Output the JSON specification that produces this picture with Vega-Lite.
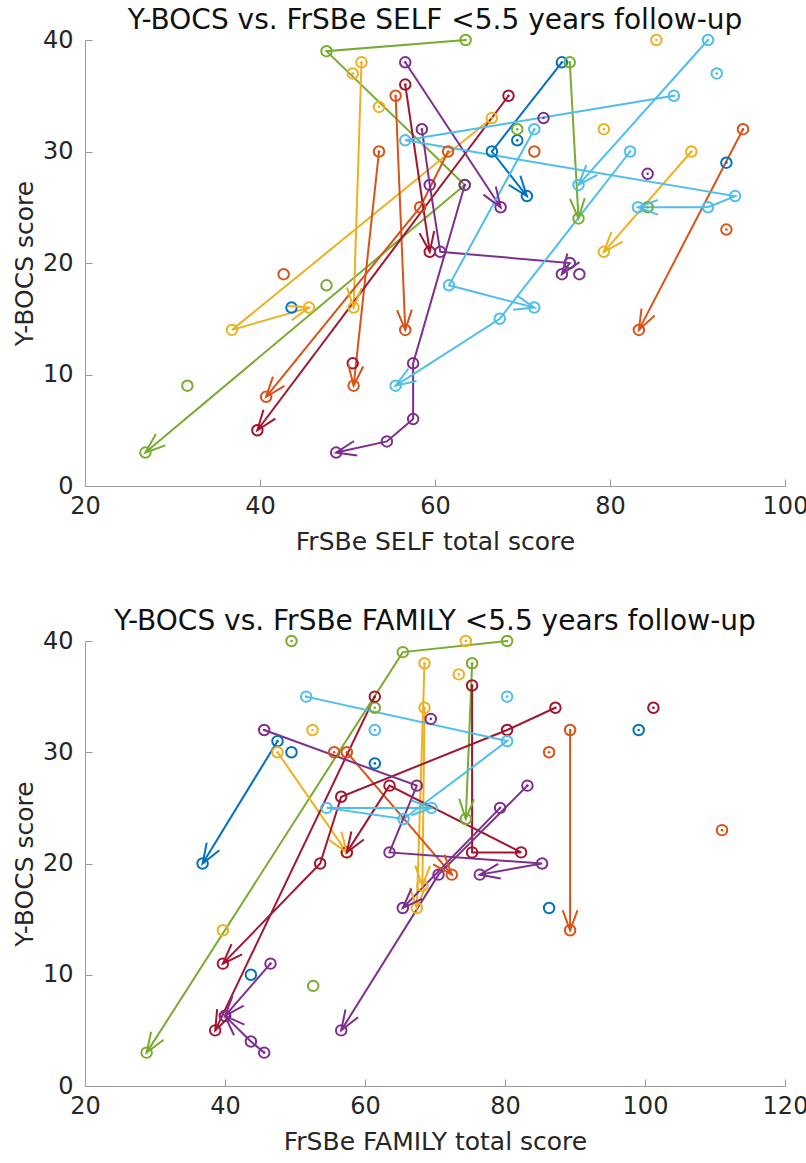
{
  "$schema": "https://vega.github.io/schema/vega-lite/v6.json",
  "padding": {"left": 12, "top": 7, "right": 5, "bottom": 5},
  "background": "white",
  "spacing": 155,
  "bounds": "flush",
  "config": {
    "font": "DejaVu Sans",
    "view": {"stroke": null},
    "axis": {
      "domainColor": "#9a9a9a",
      "tickColor": "#9a9a9a",
      "tickSize": -7,
      "grid": false,
      "labelFlush": false,
      "labelFont": "DejaVu Sans",
      "labelFontSize": 24,
      "labelColor": "#262626",
      "titleFont": "DejaVu Sans",
      "titleFontSize": 25,
      "titleFontWeight": "normal",
      "titleColor": "#262626"
    },
    "axisX": {"labelPadding": 15, "titlePadding": 11},
    "axisY": {"labelPadding": 19, "titlePadding": 5},
    "title": {"font": "DejaVu Sans", "fontSize": 28, "fontWeight": "normal", "color": "#111111", "offset": -7, "baseline": "alphabetic"}
  },
  "datasets": {
    "self": [
      {"s": 1, "v": 1, "g": 1, "x": 74.5, "y": 38}, {"s": 1, "v": 2, "g": 1, "x": 66.5, "y": 30}, {"s": 1, "v": 3, "g": 1, "x": 70.5, "y": 26},
      {"s": 2, "v": 1, "g": 1, "x": 69.4, "y": 31},
      {"s": 3, "v": 1, "g": 1, "x": 93.3, "y": 29},
      {"s": 4, "v": 2, "g": 1, "x": 43.6, "y": 16},
      {"s": 5, "v": 1, "g": 5, "x": 63.5, "y": 40}, {"s": 5, "v": 2, "g": 5, "x": 47.6, "y": 39}, {"s": 5, "v": 3, "g": 5, "x": 63.4, "y": 27}, {"s": 5, "v": 4, "g": 5, "x": 26.9, "y": 3},
      {"s": 6, "v": 1, "g": 5, "x": 75.4, "y": 38}, {"s": 6, "v": 2, "g": 5, "x": 76.4, "y": 24},
      {"s": 7, "v": 1, "g": 5, "x": 69.4, "y": 32},
      {"s": 8, "v": 1, "g": 5, "x": 84.3, "y": 25},
      {"s": 9, "v": 2, "g": 5, "x": 47.6, "y": 18},
      {"s": 10, "v": 2, "g": 5, "x": 31.7, "y": 9},
      {"s": 11, "v": 1, "g": 3, "x": 51.6, "y": 38}, {"s": 11, "v": 2, "g": 3, "x": 50.7, "y": 16},
      {"s": 12, "v": 1, "g": 3, "x": 50.6, "y": 37},
      {"s": 13, "v": 1, "g": 3, "x": 53.6, "y": 34},
      {"s": 14, "v": 1, "g": 3, "x": 66.5, "y": 33}, {"s": 14, "v": 2, "g": 3, "x": 36.8, "y": 14}, {"s": 14, "v": 3, "g": 3, "x": 45.6, "y": 16},
      {"s": 15, "v": 1, "g": 3, "x": 85.3, "y": 40},
      {"s": 16, "v": 1, "g": 3, "x": 79.3, "y": 32},
      {"s": 17, "v": 1, "g": 3, "x": 89.3, "y": 30}, {"s": 17, "v": 2, "g": 3, "x": 79.3, "y": 21},
      {"s": 18, "v": 1, "g": 2, "x": 95.2, "y": 32}, {"s": 18, "v": 2, "g": 2, "x": 83.3, "y": 14},
      {"s": 19, "v": 1, "g": 2, "x": 93.3, "y": 23},
      {"s": 20, "v": 2, "g": 2, "x": 71.35, "y": 30},
      {"s": 21, "v": 1, "g": 2, "x": 55.5, "y": 35}, {"s": 21, "v": 2, "g": 2, "x": 56.6, "y": 14},
      {"s": 22, "v": 1, "g": 2, "x": 53.6, "y": 30}, {"s": 22, "v": 2, "g": 2, "x": 50.7, "y": 9},
      {"s": 23, "v": 1, "g": 2, "x": 61.5, "y": 30}, {"s": 23, "v": 2, "g": 2, "x": 58.3, "y": 25}, {"s": 23, "v": 3, "g": 2, "x": 40.7, "y": 8},
      {"s": 24, "v": 2, "g": 2, "x": 42.7, "y": 19},
      {"s": 25, "v": 1, "g": 7, "x": 56.6, "y": 36}, {"s": 25, "v": 2, "g": 7, "x": 59.4, "y": 21},
      {"s": 26, "v": 1, "g": 7, "x": 68.4, "y": 35}, {"s": 26, "v": 2, "g": 7, "x": 39.7, "y": 5},
      {"s": 27, "v": 2, "g": 7, "x": 50.6, "y": 11},
      {"s": 28, "v": 1, "g": 4, "x": 56.6, "y": 38}, {"s": 28, "v": 2, "g": 4, "x": 67.5, "y": 25},
      {"s": 29, "v": 1, "g": 4, "x": 58.5, "y": 32}, {"s": 29, "v": 2, "g": 4, "x": 59.4, "y": 27}, {"s": 29, "v": 3, "g": 4, "x": 60.6, "y": 21}, {"s": 29, "v": 4, "g": 4, "x": 75.4, "y": 20}, {"s": 29, "v": 5, "g": 4, "x": 74.5, "y": 19},
      {"s": 30, "v": 1, "g": 4, "x": 63.4, "y": 27}, {"s": 30, "v": 2, "g": 4, "x": 57.5, "y": 11}, {"s": 30, "v": 3, "g": 4, "x": 57.5, "y": 6}, {"s": 30, "v": 4, "g": 4, "x": 54.5, "y": 4}, {"s": 30, "v": 5, "g": 4, "x": 48.7, "y": 3},
      {"s": 31, "v": 1, "g": 4, "x": 72.4, "y": 33},
      {"s": 32, "v": 1, "g": 4, "x": 84.3, "y": 28},
      {"s": 33, "v": 2, "g": 4, "x": 76.5, "y": 19},
      {"s": 34, "v": 1, "g": 6, "x": 91.2, "y": 40}, {"s": 34, "v": 2, "g": 6, "x": 76.4, "y": 27},
      {"s": 35, "v": 1, "g": 6, "x": 92.2, "y": 37},
      {"s": 36, "v": 1, "g": 6, "x": 87.3, "y": 35}, {"s": 36, "v": 2, "g": 6, "x": 56.6, "y": 31}, {"s": 36, "v": 3, "g": 6, "x": 94.3, "y": 26}, {"s": 36, "v": 4, "g": 6, "x": 91.2, "y": 25}, {"s": 36, "v": 5, "g": 6, "x": 83.2, "y": 25},
      {"s": 37, "v": 1, "g": 6, "x": 71.35, "y": 32}, {"s": 37, "v": 2, "g": 6, "x": 61.6, "y": 18}, {"s": 37, "v": 3, "g": 6, "x": 71.35, "y": 16},
      {"s": 38, "v": 1, "g": 6, "x": 82.3, "y": 30}, {"s": 38, "v": 2, "g": 6, "x": 67.4, "y": 15}, {"s": 38, "v": 3, "g": 6, "x": 55.5, "y": 9}
    ],
    "family": [
      {"s": 1, "v": 1, "g": 5, "x": 49.5, "y": 40},
      {"s": 2, "v": 1, "g": 5, "x": 80.3, "y": 40}, {"s": 2, "v": 2, "g": 5, "x": 65.4, "y": 39}, {"s": 2, "v": 3, "g": 5, "x": 28.8, "y": 3},
      {"s": 3, "v": 1, "g": 5, "x": 61.4, "y": 34},
      {"s": 4, "v": 1, "g": 5, "x": 75.3, "y": 38}, {"s": 4, "v": 2, "g": 5, "x": 74.4, "y": 24},
      {"s": 5, "v": 2, "g": 5, "x": 52.6, "y": 9},
      {"s": 6, "v": 1, "g": 1, "x": 47.5, "y": 31}, {"s": 6, "v": 2, "g": 1, "x": 36.8, "y": 20},
      {"s": 7, "v": 2, "g": 1, "x": 49.5, "y": 30},
      {"s": 8, "v": 1, "g": 1, "x": 61.4, "y": 29},
      {"s": 9, "v": 1, "g": 1, "x": 99.1, "y": 32},
      {"s": 10, "v": 2, "g": 1, "x": 43.7, "y": 10},
      {"s": 11, "v": 2, "g": 1, "x": 86.3, "y": 16},
      {"s": 12, "v": 1, "g": 3, "x": 52.5, "y": 32},
      {"s": 13, "v": 1, "g": 3, "x": 47.5, "y": 30}, {"s": 13, "v": 2, "g": 3, "x": 57.4, "y": 21},
      {"s": 14, "v": 1, "g": 3, "x": 68.5, "y": 38}, {"s": 14, "v": 2, "g": 3, "x": 67.4, "y": 16},
      {"s": 15, "v": 1, "g": 3, "x": 68.5, "y": 34}, {"s": 15, "v": 2, "g": 3, "x": 68.2, "y": 18},
      {"s": 16, "v": 1, "g": 3, "x": 74.4, "y": 40},
      {"s": 17, "v": 1, "g": 3, "x": 73.4, "y": 37},
      {"s": 18, "v": 2, "g": 3, "x": 39.7, "y": 14},
      {"s": 19, "v": 1, "g": 2, "x": 55.6, "y": 30},
      {"s": 20, "v": 1, "g": 2, "x": 57.4, "y": 30}, {"s": 20, "v": 2, "g": 2, "x": 72.4, "y": 19},
      {"s": 21, "v": 1, "g": 2, "x": 89.3, "y": 32}, {"s": 21, "v": 2, "g": 2, "x": 89.3, "y": 14},
      {"s": 22, "v": 1, "g": 2, "x": 86.3, "y": 30},
      {"s": 23, "v": 1, "g": 2, "x": 111, "y": 23},
      {"s": 24, "v": 1, "g": 7, "x": 61.4, "y": 35}, {"s": 24, "v": 2, "g": 7, "x": 38.6, "y": 5},
      {"s": 25, "v": 1, "g": 7, "x": 87.2, "y": 34}, {"s": 25, "v": 2, "g": 7, "x": 80.3, "y": 32}, {"s": 25, "v": 3, "g": 7, "x": 56.6, "y": 26}, {"s": 25, "v": 4, "g": 7, "x": 53.6, "y": 20}, {"s": 25, "v": 5, "g": 7, "x": 39.7, "y": 11},
      {"s": 26, "v": 1, "g": 7, "x": 75.3, "y": 36}, {"s": 26, "v": 2, "g": 7, "x": 75.3, "y": 21}, {"s": 26, "v": 3, "g": 7, "x": 82.3, "y": 21}, {"s": 26, "v": 4, "g": 7, "x": 63.5, "y": 27}, {"s": 26, "v": 5, "g": 7, "x": 57.4, "y": 21},
      {"s": 27, "v": 1, "g": 7, "x": 101.2, "y": 34},
      {"s": 28, "v": 1, "g": 6, "x": 51.6, "y": 35}, {"s": 28, "v": 2, "g": 6, "x": 80.3, "y": 31}, {"s": 28, "v": 3, "g": 6, "x": 65.5, "y": 24}, {"s": 28, "v": 4, "g": 6, "x": 54.5, "y": 25}, {"s": 28, "v": 5, "g": 6, "x": 69.5, "y": 25},
      {"s": 29, "v": 1, "g": 6, "x": 61.4, "y": 32},
      {"s": 30, "v": 1, "g": 6, "x": 80.3, "y": 35},
      {"s": 31, "v": 1, "g": 4, "x": 45.6, "y": 32}, {"s": 31, "v": 2, "g": 4, "x": 67.4, "y": 27}, {"s": 31, "v": 3, "g": 4, "x": 63.5, "y": 21}, {"s": 31, "v": 4, "g": 4, "x": 85.3, "y": 20}, {"s": 31, "v": 5, "g": 4, "x": 76.4, "y": 19},
      {"s": 32, "v": 1, "g": 4, "x": 69.4, "y": 33},
      {"s": 33, "v": 1, "g": 4, "x": 83.2, "y": 27}, {"s": 33, "v": 2, "g": 4, "x": 70.5, "y": 19}, {"s": 33, "v": 3, "g": 4, "x": 56.6, "y": 5},
      {"s": 34, "v": 1, "g": 4, "x": 79.3, "y": 25}, {"s": 34, "v": 2, "g": 4, "x": 65.4, "y": 16},
      {"s": 35, "v": 1, "g": 4, "x": 45.6, "y": 3}, {"s": 35, "v": 2, "g": 4, "x": 43.7, "y": 4}, {"s": 35, "v": 3, "g": 4, "x": 40, "y": 6.3},
      {"s": 36, "v": 1, "g": 4, "x": 46.5, "y": 11}, {"s": 36, "v": 2, "g": 4, "x": 40, "y": 6.3}
    ]
  },
  "vconcat": [
    {
      "width": 700,
      "height": 446,
      "title": "Y-BOCS vs. FrSBe SELF <5.5 years follow-up",
      "data": {"name": "self"},
      "encoding": {
        "x": {"field": "x", "type": "quantitative", "scale": {"domain": [20, 100], "nice": false, "zero": false}, "axis": {"values": [20, 40, 60, 80, 100], "title": "FrSBe SELF total score"}},
        "y": {"field": "y", "type": "quantitative", "scale": {"domain": [0, 40], "nice": false}, "axis": {"values": [0, 10, 20, 30, 40], "title": "Y-BOCS score"}},
        "color": {"field": "g", "type": "nominal", "scale": {"domain": [1, 2, 3, 4, 5, 6, 7], "range": ["#0072BD", "#D95319", "#EDB120", "#7E2F8E", "#77AC30", "#4DBEEE", "#A2142F"]}, "legend": null}
      },
      "layer": [
        {"mark": {"type": "line", "strokeWidth": 2}, "encoding": {"detail": {"field": "s", "type": "nominal"}, "order": {"field": "v", "type": "quantitative"}}},
        {"mark": {"type": "point", "shape": "circle", "filled": false, "size": 110, "strokeWidth": 2, "opacity": 1}},
        {"transform": [{"filter": "datum.v == 1"}], "mark": {"type": "point", "shape": "circle", "filled": true, "size": 7, "opacity": 1}},
        {
          "transform": [
            {"window": [{"op": "lag", "field": "x", "as": "px"}, {"op": "lag", "field": "y", "as": "py"}], "groupby": ["s"], "sort": [{"field": "v"}]},
            {"joinaggregate": [{"op": "max", "field": "v", "as": "last"}], "groupby": ["s"]},
            {"filter": "datum.v == datum.last && datum.v > 1 && datum.px != null"},
            {"calculate": "atan2(-(datum.x - datum.px) * 8.75, -(datum.y - datum.py) * 11.15) * 180 / PI", "as": "ang"}
          ],
          "mark": {"type": "point", "shape": "M -0.37 -1 L 0 0 L 0.37 -1", "filled": false, "size": 1600, "strokeWidth": 2, "opacity": 1},
          "encoding": {"angle": {"field": "ang", "type": "quantitative", "scale": null}}
        }
      ]
    },
    {
      "width": 700,
      "height": 445,
      "title": "Y-BOCS vs. FrSBe FAMILY <5.5 years follow-up",
      "data": {"name": "family"},
      "encoding": {
        "x": {"field": "x", "type": "quantitative", "scale": {"domain": [20, 120], "nice": false, "zero": false}, "axis": {"values": [20, 40, 60, 80, 100, 120], "title": "FrSBe FAMILY total score"}},
        "y": {"field": "y", "type": "quantitative", "scale": {"domain": [0, 40], "nice": false}, "axis": {"values": [0, 10, 20, 30, 40], "title": "Y-BOCS score"}},
        "color": {"field": "g", "type": "nominal", "scale": {"domain": [1, 2, 3, 4, 5, 6, 7], "range": ["#0072BD", "#D95319", "#EDB120", "#7E2F8E", "#77AC30", "#4DBEEE", "#A2142F"]}, "legend": null}
      },
      "layer": [
        {"mark": {"type": "line", "strokeWidth": 2}, "encoding": {"detail": {"field": "s", "type": "nominal"}, "order": {"field": "v", "type": "quantitative"}}},
        {"mark": {"type": "point", "shape": "circle", "filled": false, "size": 110, "strokeWidth": 2, "opacity": 1}},
        {"transform": [{"filter": "datum.v == 1"}], "mark": {"type": "point", "shape": "circle", "filled": true, "size": 7, "opacity": 1}},
        {
          "transform": [
            {"window": [{"op": "lag", "field": "x", "as": "px"}, {"op": "lag", "field": "y", "as": "py"}], "groupby": ["s"], "sort": [{"field": "v"}]},
            {"joinaggregate": [{"op": "max", "field": "v", "as": "last"}], "groupby": ["s"]},
            {"filter": "datum.v == datum.last && datum.v > 1 && datum.px != null"},
            {"calculate": "atan2(-(datum.x - datum.px) * 7, -(datum.y - datum.py) * 11.125) * 180 / PI", "as": "ang"}
          ],
          "mark": {"type": "point", "shape": "M -0.37 -1 L 0 0 L 0.37 -1", "filled": false, "size": 1600, "strokeWidth": 2, "opacity": 1},
          "encoding": {"angle": {"field": "ang", "type": "quantitative", "scale": null}}
        }
      ]
    }
  ]
}
